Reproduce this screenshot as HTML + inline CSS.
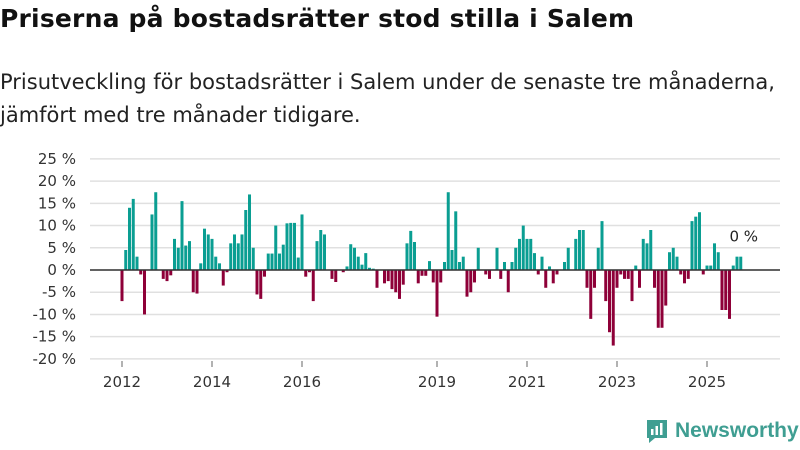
<!DOCTYPE html>
<html><head><meta charset="utf-8"><style>
body{margin:0;width:800px;height:450px;background:#fff;font-family:"DejaVu Sans","Liberation Sans",sans-serif;overflow:hidden;position:relative}
h1{position:absolute;left:0;top:4px;margin:0;font-size:25px;font-weight:bold;color:#111;letter-spacing:0.2px;white-space:nowrap}
.sub{position:absolute;left:0;top:66px;margin:0;font-size:21px;line-height:33px;color:#222;white-space:nowrap}
svg{position:absolute;left:0;top:0}
</style></head><body>
<h1>Priserna på bostadsrätter stod stilla i Salem</h1>
<p class="sub">Prisutveckling för bostadsrätter i Salem under de senaste tre månaderna,<br>jämfört med tre månader tidigare.</p>
<svg id="chart" width="800" height="450"></svg>
<script>
const startYear = 2012;
const values = [-7,4.5,14,16,3,-1,-10,0,12.5,17.5,0,-2,-2.5,-1.2,7,5,15.5,5.5,6.5,-5,-5.3,1.5,9.3,8,7,3,1.5,-3.5,-0.5,6,8,6,8,13.5,17,5,-5.5,-6.5,-1.5,3.7,3.7,10,3.7,5.7,10.5,10.6,10.6,2.8,12.5,-1.5,-0.5,-7,6.5,9,8,0,-2,-2.7,0,-0.5,0.8,5.8,5,3,1.2,3.8,0.5,0.3,-4,0,-3,-2.5,-4.3,-5,-6.5,-3.3,6,8.8,6.3,-3,-1.3,-1.3,2,-2.8,-10.5,-2.8,1.8,17.5,4.5,13.2,1.8,3,-6,-5,-2.8,5,0,-1,-2,0,5,-2,1.8,-5,1.8,5,7,10,7,7,3.8,-1,3,-4,0.8,-3,-1,0,1.8,5,0,7,9,9,-4,-11,-4,5,11,-7,-14,-17,-4,-1,-2,-2,-7,1,-4,7,6,9,-4,-13,-13,-8,4,5,3,-1,-3,-2,11,12,13,-1,1,1,6,4,-9,-9,-11,1,3,3];
const yTicks = [25,20,15,10,5,0,-5,-10,-15,-20];
const xTickYears = [2012,2014,2016,2019,2021,2023,2025];
const lastLabel = "0 %";

const svg = document.getElementById('chart');
const NS = 'http://www.w3.org/2000/svg';
const y = v => 270 - v * 4.444;
const pitch = 3.75;
const x = i => 122 + i * pitch;
const xYear = yr => x((yr - startYear) * 12);
function mk(tag, attrs){const e=document.createElementNS(NS,tag);for(const k in attrs)e.setAttribute(k,attrs[k]);svg.appendChild(e);return e;}

yTicks.forEach(t=>{
  const g = mk('line',{x1:90,x2:780,y1:y(t),y2:y(t),stroke:'#e0e0e0','stroke-width':1.5});
  
  
  const l = mk('text',{x:76,y:y(t)+5,'text-anchor':'end','font-size':15,fill:'#333'});
  l.textContent = (t<0?'-'+Math.abs(t):t)+' %';
  
  
});
values.forEach((v,i)=>{
  if(v===0) return;
  const r = mk('rect',{x:x(i)-1.5,width:3,y:Math.min(y(v),y(0)),height:Math.abs(y(v)-y(0)),fill:v>0?'#0a9e92':'#8e0038'});
  
  
});
const z = mk('line',{x1:90,x2:780,y1:y(0),y2:y(0),stroke:'#333','stroke-width':1.5});


xTickYears.forEach(yr=>{
  const tk = mk('line',{x1:xYear(yr),x2:xYear(yr),y1:361,y2:367,stroke:'#666','stroke-width':1});
  
  
  const l = mk('text',{x:xYear(yr),y:387,'text-anchor':'middle','font-size':15,fill:'#333'});
  l.textContent = yr;
  
  
});
const last = values.length-1;
const ll = mk('text',{x:x(last)+3,y:y(values[last])-15,'text-anchor':'middle','font-size':15,fill:'#222'});
ll.textContent = lastLabel;


</script>
<div style="position:absolute;left:645px;top:418px;display:flex;align-items:center">
  <svg width="24" height="26" style="position:static" viewBox="0 0 24 26"><path d="M2 2h20v18H10l-6 5v-5H2z" fill="#3f9e92"/><rect x="6" y="11" width="2.5" height="6" fill="#fff"/><rect x="10.5" y="8" width="2.5" height="9" fill="#fff"/><rect x="15" y="5" width="2.5" height="12" fill="#fff"/></svg>
  <span style="font-family:'Liberation Sans',sans-serif;font-size:21px;font-weight:bold;color:#3f9e92;margin-left:6px">Newsworthy</span>
</div>
</body></html>
